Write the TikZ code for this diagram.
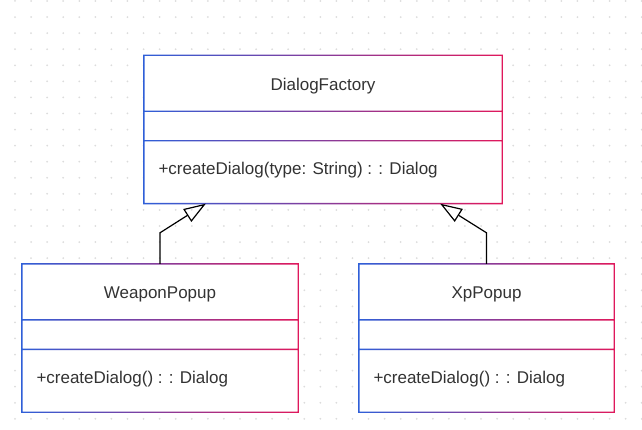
\documentclass[tikz,border=0pt]{standalone}
\usepackage{fontspec}
\setmainfont{Liberation Sans}
\usetikzlibrary{arrows.meta,positioning}

\definecolor{umlblue}{HTML}{2F5FD8}
\definecolor{umlpink}{HTML}{E0185C}
\definecolor{umltext}{HTML}{333333}
\definecolor{griddot}{HTML}{DCDCDC}

% gradient frame with two dividers around a class node
\newcommand{\classframe}[1]{%
  \shade[left color=umlblue, right color=umlpink, even odd rule]
    ([shift={(-.7pt,.7pt)}]#1.north west) rectangle ([shift={(.7pt,-.7pt)}]#1.south east)
    ([shift={(.7pt,-.7pt)}]#1.north west) rectangle ([shift={(-.7pt,.7pt)}]#1.south east)
    ([shift={(.7pt,-55.3pt)}]#1.north west) rectangle ([shift={(-.7pt,-56.7pt)}]#1.north east)
    ([shift={(.7pt,-84.8pt)}]#1.north west) rectangle ([shift={(-.7pt,-86.2pt)}]#1.north east);}

\begin{document}
\begin{tikzpicture}[
    x = 1pt,
    y = -1pt,
    font = \fontsize{17}{20}\selectfont,
    class/.style={rectangle, fill=white, inner sep=0pt, minimum height=148pt},
    title/.style={text=umltext, inner sep=0pt},
    member/.style={text=umltext, inner sep=0pt, anchor=west},
    inherit/.style={draw=black, line width=1.2pt,
        -{Triangle[open, length=22pt, width=15pt, line width=1.2pt]}}
]
    \useasboundingbox (0,0) rectangle (642,430);
    \foreach \i in {0,...,39}
        \foreach \j in {0,...,26}
            \fill[griddot] (15+16.07*\i, 1+16.07*\j) circle (1pt);

    \node[class, minimum width=358pt] (factory) at (323,129.5) {};
    \node[class, minimum width=276pt] (weapon) at (160,338) {};
    \node[class, minimum width=255pt] (xp) at (486.5,338) {};

    \classframe{factory}
    \classframe{weapon}
    \classframe{xp}

    \node[title] (factory-name) at ([yshift=-30.5pt]factory.north) {DialogFactory};
    \node[member] (factory-op) at ([shift={(14.5pt,-115pt)}]factory.north west)
        {+createDialog(type: String) : : Dialog};
    \node[title] (weapon-name) at ([yshift=-30.5pt]weapon.north) {WeaponPopup};
    \node[member] (weapon-op) at ([shift={(14.5pt,-115pt)}]weapon.north west)
        {+createDialog() : : Dialog};
    \node[title] (xp-name) at ([yshift=-30.5pt]xp.north) {XpPopup};
    \node[member] (xp-op) at ([shift={(14.5pt,-115pt)}]xp.north west)
        {+createDialog() : : Dialog};

    \draw[inherit] (weapon.north) -- ++(0,-31) -- ([xshift=62pt]factory.south west);
    \draw[inherit] (xp.north) -- ++(0,-31) -- ([xshift=-62pt]factory.south east);
\end{tikzpicture}
\end{document}
